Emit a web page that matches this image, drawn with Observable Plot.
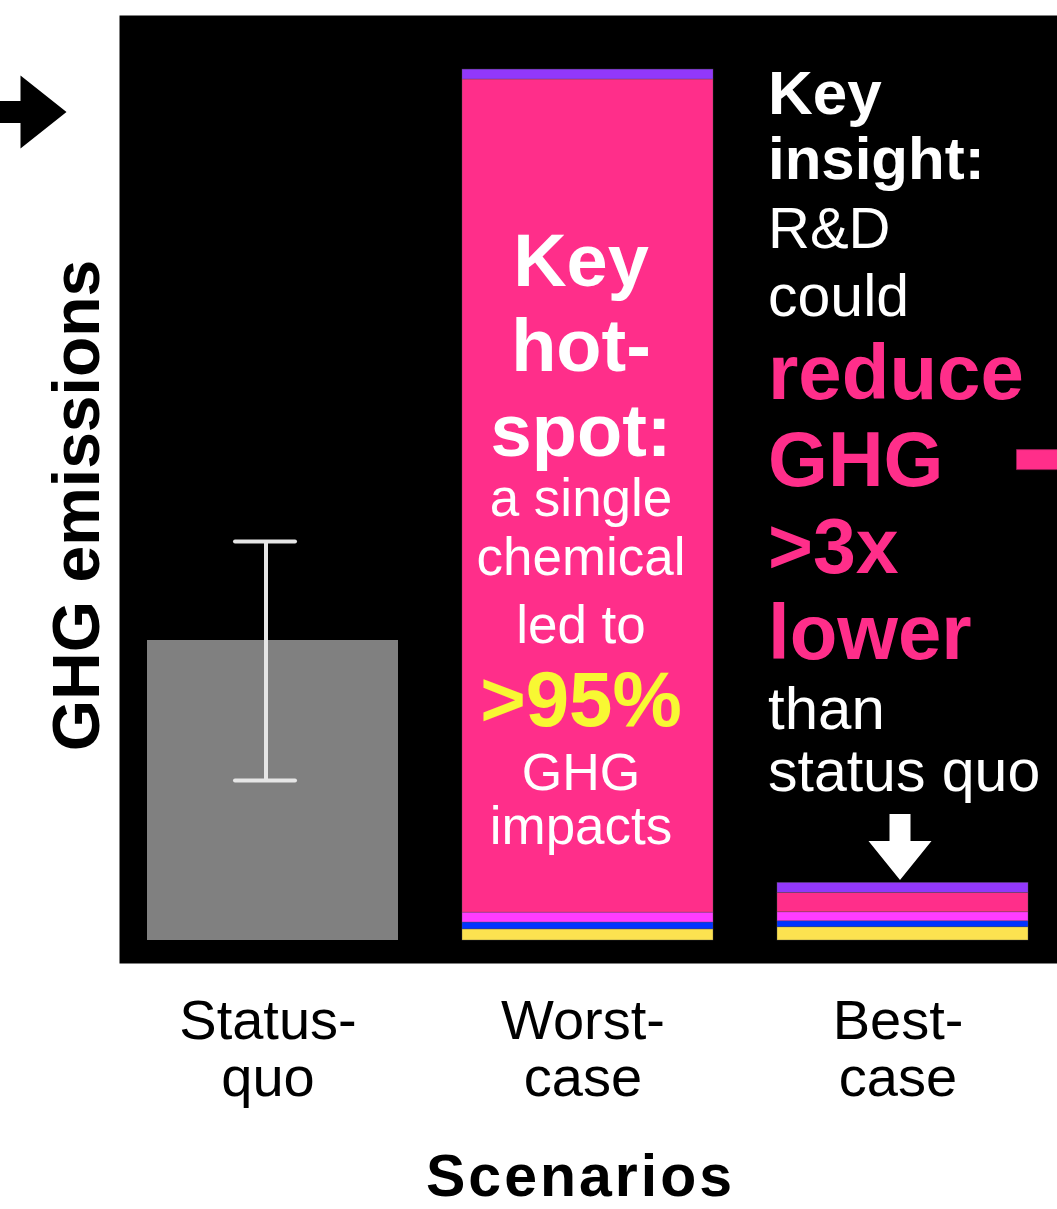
<!DOCTYPE html>
<html>
<head>
<meta charset="utf-8">
<script src="https://cdn.jsdelivr.net/npm/d3@7"></script>
<script src="https://cdn.jsdelivr.net/npm/@observablehq/plot@0.6"></script>
<style>
  html, body { margin: 0; padding: 0; background: #fff; }
  #chart svg { display: block; }
</style>
</head>
<body>
<div id="chart"></div>
<script>
// ---------------- data ----------------
const scenarios = ["Status-quo", "Worst-case", "Best-case"];
const tickLabels = ["Status-\nquo", "Worst-\ncase", "Best-\ncase"];

// status quo (single bar with uncertainty range)
const statusQuoValue = 10.0;
const statusQuoLow = 5.33;
const statusQuoHigh = 13.3;

// stacked components, bottom to top
const layers = ["Component A", "Component B", "Component C", "Key chemical", "Component D"];
const layerColors = ["#fce250", "#0033ff", "#ff3cff", "#ff2e8a", "#9238fa"];
const worstValues = [0.37, 0.23, 0.33, 27.77, 0.33];
const bestValues = [0.44, 0.2, 0.3, 0.65, 0.33];

// annotation pointer levels
const leftArrowLevel = 27.62;
const rightStubLevel = 16.03;

// ---------------- build ----------------
const stackData = layers.flatMap((layer, i) => [
  {scenario: "Worst-case", layer, value: worstValues[i]},
  {scenario: "Best-case", layer, value: bestValues[i]}
]);
const bestTotal = d3.sum(bestValues);

const FONT = "'Liberation Sans', Arial, Helvetica, sans-serif";
const PINK = "#ff2e8a";

// custom filled symbols (shapes drawn relative to the anchor point)
const arrowRight = {draw(c) {
  c.moveTo(0, 0); c.lineTo(-46, -36.5); c.lineTo(-46, -11); c.lineTo(-100, -11);
  c.lineTo(-100, 11); c.lineTo(-46, 11); c.lineTo(-46, 36.5); c.closePath();
}};
const arrowDown = {draw(c) {
  c.moveTo(0, 0); c.lineTo(-31.5, -39); c.lineTo(-10.5, -39); c.lineTo(-10.5, -66);
  c.lineTo(10.5, -66); c.lineTo(10.5, -39); c.lineTo(31.5, -39); c.closePath();
}};
const stub = {draw(c) {
  c.moveTo(0, -10); c.lineTo(60, -10); c.lineTo(60, 10); c.lineTo(0, 10); c.closePath();
}};

// annotation lines (text + style); baselines in px from frame top
const worstNote = [
  {t: "Key", s: 74, w: "bold", c: "white", b: 285},
  {t: "hot-", s: 74, w: "bold", c: "white", b: 370},
  {t: "spot:", s: 74, w: "bold", c: "white", b: 455},
  {t: "a single", s: 53, w: "normal", c: "white", b: 515},
  {t: "chemical", s: 53, w: "normal", c: "white", b: 574},
  {t: "led to", s: 53, w: "normal", c: "white", b: 642},
  {t: ">95%", s: 78, w: "bold", c: "#f8f833", b: 725},
  {t: "GHG", s: 52, w: "normal", c: "white", b: 789},
  {t: "impacts", s: 53, w: "normal", c: "white", b: 843}
];
const bestNote = [
  {t: "Key", s: 62, w: "bold", c: "white", b: 113},
  {t: "insight:", s: 60, w: "bold", c: "white", b: 178},
  {t: "R&D", s: 58, w: "normal", c: "white", b: 247},
  {t: "could", s: 59, w: "normal", c: "white", b: 315},
  {t: "reduce", s: 78, w: "bold", c: PINK, b: 398},
  {t: "GHG", s: 77, w: "bold", c: PINK, b: 485},
  {t: ">3x", s: 77, w: "bold", c: PINK, b: 572},
  {t: "lower", s: 78, w: "bold", c: PINK, b: 658},
  {t: "than", s: 60, w: "normal", c: "white", b: 728},
  {t: "status quo", s: 59, w: "normal", c: "white", b: 790}
];

const W = 1057, H = 1209;
const mTop = 15, mLeft = 119, mBottom = 246;

const noteMarks = (lines, scen, anchor, dx) => lines.map(l =>
  Plot.text([scen], {
    x: d => d, text: () => l.t, frameAnchor: "top", lineAnchor: "bottom",
    dy: l.b - mTop, dx, textAnchor: anchor, fontSize: l.s, fontWeight: l.w,
    fill: l.c, fontFamily: FONT
  })
);

const chart = Plot.plot({
  width: W,
  height: H,
  marginTop: mTop,
  marginLeft: mLeft,
  marginRight: 0,
  marginBottom: mBottom,
  insetBottom: 23,
  style: {fontFamily: FONT, background: "white", overflow: "hidden"},
  x: {domain: scenarios, paddingInner: 0.2025, paddingOuter: 0.087, axis: null},
  y: {domain: [0, 925 / 30], axis: null},
  color: {domain: layers, range: layerColors},
  marks: [
    Plot.frame({fill: "black", stroke: "none"}),
    // status quo bar
    Plot.barY([{scenario: "Status-quo", value: statusQuoValue}], {
      x: "scenario", y: "value", fill: "#808080"
    }),
    // stacked bars
    Plot.barY(stackData, {
      x: "scenario", y: "value", fill: "layer",
      stroke: "#555", strokeWidth: 0.6, strokeOpacity: 0.6
    }),
    // error bar
    Plot.ruleX([{scenario: "Status-quo", lo: statusQuoLow, hi: statusQuoHigh}], {
      x: "scenario", y1: "lo", y2: "hi", dx: -7, stroke: "#e6e6e6", strokeWidth: 4
    }),
    Plot.tickY([statusQuoLow, statusQuoHigh], {
      x: () => "Status-quo", y: d => d, insetLeft: 88, insetRight: 103,
      stroke: "#e6e6e6", strokeWidth: 4, strokeLinecap: "round"
    }),
    // annotations
    ...noteMarks(worstNote, "Worst-case", "middle", -7),
    ...noteMarks(bestNote, "Best-case", "start", -135),
    // pointers
    Plot.dot([bestTotal + 0.1], {
      x: () => "Best-case", y: d => d, dx: -3, symbol: arrowDown, r: 10,
      fill: "white", stroke: "none"
    }),
    Plot.dot([leftArrowLevel], {
      frameAnchor: "left", y: d => d, dx: -53, symbol: arrowRight, r: 10,
      fill: "black", stroke: "none"
    }),
    Plot.dot([rightStubLevel], {
      frameAnchor: "right", y: d => d, dx: -41, symbol: stub, r: 10,
      fill: PINK, stroke: "#9a1f58", strokeWidth: 0.8
    }),
    // x tick labels
    Plot.text(scenarios, {
      x: d => d, text: (d, i) => tickLabels[i], frameAnchor: "bottom",
      lineAnchor: "top", dy: 35, dx: -5, fontSize: 56, lineHeight: 1.02,
      fill: "black", fontFamily: FONT
    }),
    // axis titles
    Plot.text(["Scenarios"], {
      frameAnchor: "bottom", text: d => d, lineAnchor: "bottom", dy: 232, dx: -8,
      textAnchor: "middle", fontSize: 59, fontWeight: "bold", fill: "black", fontFamily: FONT
    }),
    Plot.text(["GHG emissions"], {
      frameAnchor: "left", text: d => d, rotate: -90, lineAnchor: "bottom",
      textAnchor: "middle", dx: -21, dy: 16, fontSize: 66, fontWeight: "bold",
      fill: "black", fontFamily: FONT
    })
  ]
});

// widen the x-axis title slightly to match the reference lettering
d3.select(chart).selectAll("text")
  .filter(function () { return this.textContent === "Scenarios"; })
  .attr("letter-spacing", 3);

document.getElementById("chart").appendChild(chart);
</script>
</body>
</html>
